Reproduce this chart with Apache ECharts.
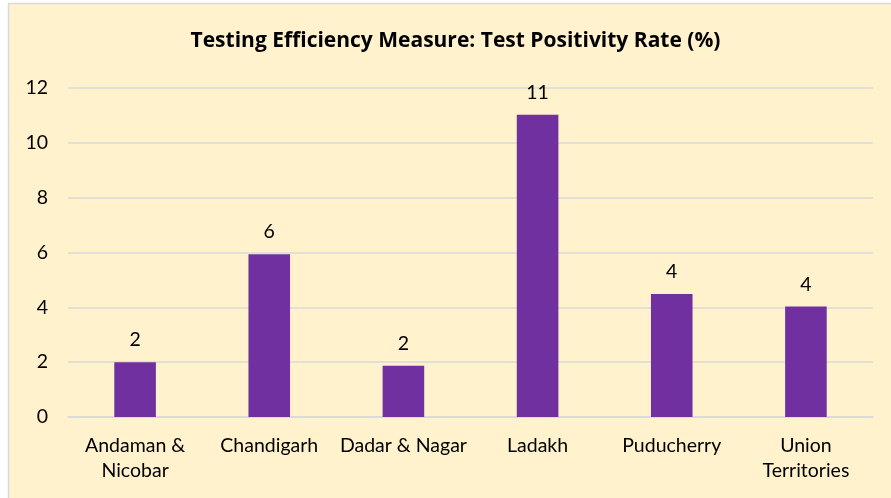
<!DOCTYPE html>
<html>
<head>
<meta charset="utf-8">
<script src="https://cdn.jsdelivr.net/npm/echarts@6/dist/echarts.min.js"></script>
<style>
  html, body { margin: 0; padding: 0; background: #ffffff; }
  #chart { width: 891px; height: 498px; }
</style>
</head>
<body>
<div id="chart"></div>
<script>
// Test positivity rate (%) by union territory
const categories = ['Andaman &\nNicobar', 'Chandigarh', 'Dadar & Nagar', 'Ladakh', 'Puducherry', 'Union\nTerritories'];
const positivityRate = [2.0, 5.94, 1.87, 11.02, 4.49, 4.03];
const yTicks = { min: 0, max: 12, interval: 2 };
const chartTitle = 'Testing Efficiency Measure: Test Positivity Rate (%)';

const FONT = 'Lato, "Open Sans", sans-serif';
const TITLE_FONT = '"Open Sans", Lato, sans-serif';

const chart = echarts.init(document.getElementById('chart'), null, { renderer: 'canvas' });
chart.setOption({
  backgroundColor: '#ffffff',
  animation: false,
  graphic: [{
    type: 'rect',
    z: -10,
    shape: { x: 8.5, y: 3.5, width: 920, height: 520 },
    style: { fill: '#FFF2CC', stroke: '#D9D9D9', lineWidth: 1.5 }
  }, {
    type: 'text',
    x: 455.5,
    y: 41,
    style: {
      text: chartTitle,
      align: 'center',
      verticalAlign: 'middle',
      fontFamily: TITLE_FONT,
      fontWeight: 'bold',
      fontSize: 21,
      fill: '#000000'
    }
  }],
  grid: { left: 68, right: 18, top: 88, bottom: 81 },
  xAxis: {
    type: 'category',
    data: categories,
    axisLine: { lineStyle: { color: '#D9D9D9', width: 1.5 } },
    axisTick: { show: false },
    axisLabel: {
      interval: 0,
      margin: 16,
      fontFamily: FONT,
      fontSize: 19.5,
      lineHeight: 25,
      color: '#000000'
    }
  },
  yAxis: {
    type: 'value',
    min: yTicks.min,
    max: yTicks.max,
    interval: yTicks.interval,
    axisLine: { show: false },
    axisTick: { show: false },
    splitLine: { lineStyle: { color: '#D9D9D9', width: 1.5 } },
    axisLabel: { margin: 20, fontFamily: FONT, fontSize: 19.5, color: '#000000' }
  },
  series: [{
    type: 'bar',
    data: positivityRate,
    barWidth: '31%',
    itemStyle: { color: '#7030A0' },
    label: {
      show: true,
      position: 'top',
      distance: 12,
      fontFamily: FONT,
      fontSize: 19.5,
      color: '#000000',
      formatter: p => Math.round(p.value).toString()
    }
  }]
});
</script>
</body>
</html>
